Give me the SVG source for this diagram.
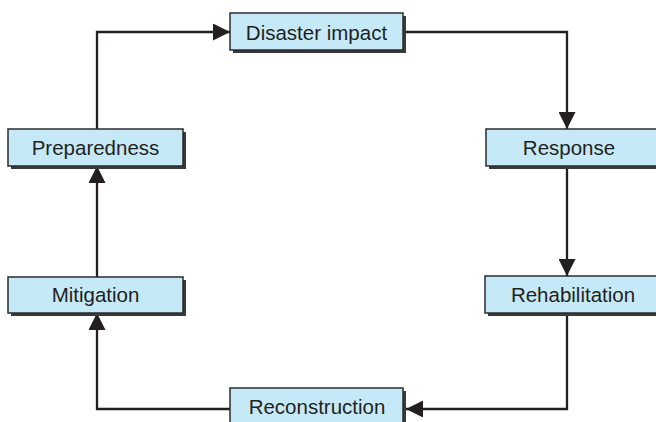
<svg xmlns="http://www.w3.org/2000/svg" width="656" height="422" viewBox="0 0 656 422">
<style>
.box{fill:#c6e9f8;stroke:#2b2b2b;stroke-width:1.5}
.sh{fill:#3a3a3a}
.lbl{font-family:"Liberation Sans",Arial,sans-serif;font-size:20.5px;fill:#231f20;text-anchor:middle}
.con{fill:none;stroke:#231f20;stroke-width:2.3;marker-end:url(#ah)}
</style>
<defs>
<marker id="ah" markerUnits="userSpaceOnUse" markerWidth="17" markerHeight="17" viewBox="0 0 17 17" refX="17" refY="8.5" orient="auto">
<path d="M0,0 L17,8.5 L0,17 Z" fill="#231f20"/>
</marker>
</defs>
<rect width="656" height="422" fill="#ffffff"/>
<g id="connectors">
<path class="con" d="M97,129 V32 H230"/>
<path class="con" d="M403,32 H567 V129"/>
<path class="con" d="M567,166 V276"/>
<path class="con" d="M567,313 V409 H406"/>
<path class="con" d="M230,409 H97 V313"/>
<path class="con" d="M97,277 V166"/>
</g>
<g id="disaster-impact">
<rect class="sh" x="233" y="16" width="173" height="37"/>
<rect class="box" x="230" y="13" width="173" height="37"/>
<text class="lbl" x="316.5" y="40">Disaster impact</text>
</g>
<g id="preparedness">
<rect class="sh" x="11" y="132" width="175" height="37"/>
<rect class="box" x="8" y="129" width="175" height="37"/>
<text class="lbl" x="95.5" y="155">Preparedness</text>
</g>
<g id="response">
<rect class="sh" x="489" y="132" width="180" height="37"/>
<rect class="box" x="486" y="129" width="180" height="37"/>
<text class="lbl" x="569" y="155">Response</text>
</g>
<g id="mitigation">
<rect class="sh" x="11" y="280" width="175" height="36"/>
<rect class="box" x="8" y="277" width="175" height="36"/>
<text class="lbl" x="95.5" y="302">Mitigation</text>
</g>
<g id="rehabilitation">
<rect class="sh" x="488" y="279" width="180" height="37"/>
<rect class="box" x="485" y="276" width="180" height="37"/>
<text class="lbl" x="573" y="302">Rehabilitation</text>
</g>
<g id="reconstruction">
<rect class="sh" x="233" y="391" width="173" height="40"/>
<rect class="box" x="230" y="388" width="173" height="40"/>
<text class="lbl" x="317" y="414">Reconstruction</text>
</g>
</svg>
